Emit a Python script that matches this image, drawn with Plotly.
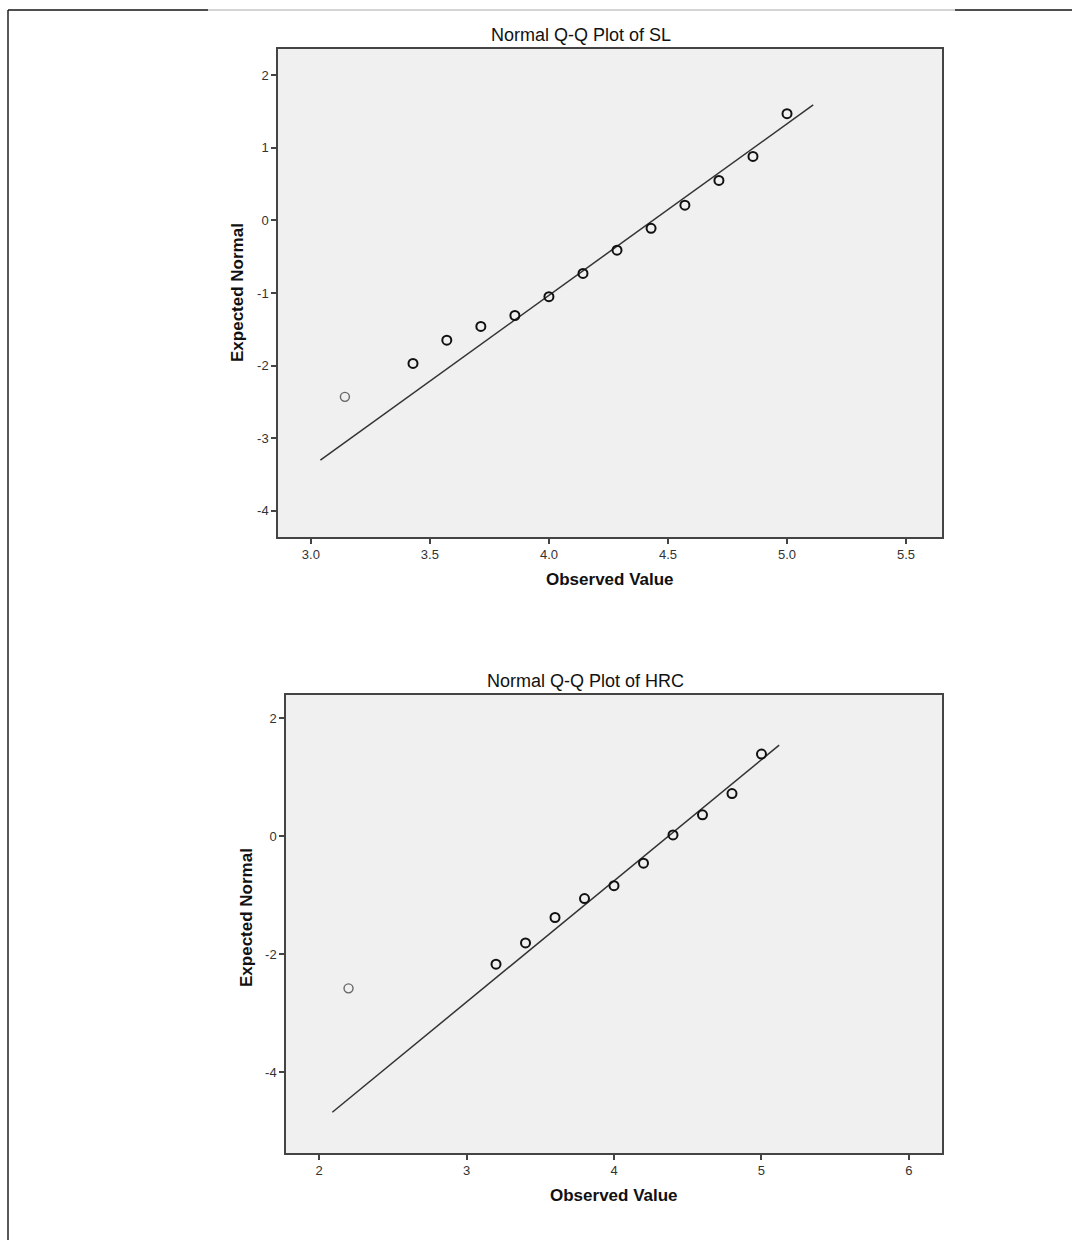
import plotly.graph_objects as go

# ---- data ----
sl_observed = [3.143, 3.429, 3.571, 3.714, 3.857, 4.0, 4.143, 4.286, 4.429, 4.571, 4.714, 4.857, 5.0]
sl_expected = [-2.43, -1.97, -1.65, -1.46, -1.31, -1.05, -0.73, -0.41, -0.11, 0.21, 0.55, 0.88, 1.47]
sl_line_x = [3.04, 5.11]
sl_line_y = [-3.30, 1.59]
sl_ticks_x = [3.0, 3.5, 4.0, 4.5, 5.0, 5.5]
sl_ticks_y = [2, 1, 0, -1, -2, -3, -4]

hrc_observed = [2.2, 3.2, 3.4, 3.6, 3.8, 4.0, 4.2, 4.4, 4.6, 4.8, 5.0]
hrc_expected = [-2.58, -2.17, -1.81, -1.38, -1.06, -0.84, -0.46, 0.02, 0.36, 0.72, 1.39]
hrc_line_x = [2.09, 5.12]
hrc_line_y = [-4.68, 1.54]
hrc_ticks_x = [2, 3, 4, 5, 6]
hrc_ticks_y = [2, 0, -2, -4]

W, H = 1072, 1240
FONT = "Liberation Sans, Arial, sans-serif"
DARK = "#333333"

def px_x(p):
    return p / W

def px_y(p):
    return 1 - p / H

def marker_style(n):
    colors = ["#666666"] + ["#111111"] * (n - 1)
    widths = [1.4] + [2.0] * (n - 1)
    return dict(symbol="circle-open", size=9, color=colors,
                line=dict(color=colors, width=widths))

fig = go.Figure()

fig.add_trace(go.Scatter(x=sl_line_x, y=sl_line_y, mode="lines",
                         line=dict(color=DARK, width=1.5), xaxis="x", yaxis="y",
                         hoverinfo="skip"))
fig.add_trace(go.Scatter(x=sl_observed, y=sl_expected, mode="markers",
                         marker=marker_style(len(sl_observed)), xaxis="x", yaxis="y"))
fig.add_trace(go.Scatter(x=hrc_line_x, y=hrc_line_y, mode="lines",
                         line=dict(color=DARK, width=1.5), xaxis="x2", yaxis="y2",
                         hoverinfo="skip"))
fig.add_trace(go.Scatter(x=hrc_observed, y=hrc_expected, mode="markers",
                         marker=marker_style(len(hrc_observed)), xaxis="x2", yaxis="y2"))

axis_common = dict(showgrid=False, zeroline=False, showline=True, mirror=True,
                   linecolor="#444444", linewidth=1.5, ticks="outside", ticklen=5,
                   tickwidth=1.5, tickcolor="#444444",
                   tickfont=dict(family=FONT, size=13, color=DARK))

def labels(vals, fmt):
    return [fmt.format(v).replace("\u2212", "-") for v in vals]

fig.update_layout(
    width=W, height=H,
    margin=dict(l=0, r=0, t=0, b=0),
    paper_bgcolor="white",
    plot_bgcolor="#f0f0f0",
    showlegend=False,
    xaxis=dict(domain=[px_x(278), px_x(942)], anchor="y", range=[2.862, 5.651],
               tickvals=sl_ticks_x, ticktext=labels(sl_ticks_x, "{:.1f}"), **axis_common),
    yaxis=dict(domain=[px_y(537), px_y(49)], anchor="x", range=[-4.36, 2.36],
               tickvals=sl_ticks_y, ticktext=labels(sl_ticks_y, "{:d}"), **axis_common),
    xaxis2=dict(domain=[px_x(286), px_x(942)], anchor="y2", range=[1.776, 6.224],
                tickvals=hrc_ticks_x, ticktext=labels(hrc_ticks_x, "{:d}"), **axis_common),
    yaxis2=dict(domain=[px_y(1153), px_y(695)], anchor="x2", range=[-5.37, 2.39],
                tickvals=hrc_ticks_y, ticktext=labels(hrc_ticks_y, "{:d}"), **axis_common),
)

def text(xp, yp, s, size, bold=False, angle=0, yanchor="middle"):
    fig.add_annotation(xref="paper", yref="paper", x=px_x(xp), y=px_y(yp),
                       text=f"<b>{s}</b>" if bold else s, showarrow=False,
                       textangle=angle, xanchor="center", yanchor=yanchor,
                       font=dict(family=FONT, size=size, color="#111111"))

text(581, 47, "Normal Q-Q Plot of SL", 18, yanchor="bottom")
text(610, 579, "Observed Value", 17, bold=True)
text(237, 293, "Expected Normal", 17, bold=True, angle=-90)

text(585, 693, "Normal Q-Q Plot of HRC", 18, yanchor="bottom")
text(614, 1195, "Observed Value", 17, bold=True)
text(246, 918, "Expected Normal", 17, bold=True, angle=-90)

# page frame lines
fig.add_shape(type="line", xref="paper", yref="paper", x0=px_x(8), x1=px_x(1072),
              y0=px_y(10), y1=px_y(10), line=dict(color="#aaaaaa", width=1))
fig.add_shape(type="line", xref="paper", yref="paper", x0=px_x(8), x1=px_x(208),
              y0=px_y(10), y1=px_y(10), line=dict(color="#222222", width=1.5))
fig.add_shape(type="line", xref="paper", yref="paper", x0=px_x(955), x1=px_x(1072),
              y0=px_y(10), y1=px_y(10), line=dict(color="#222222", width=1.5))
fig.add_shape(type="line", xref="paper", yref="paper", x0=px_x(8), x1=px_x(8),
              y0=px_y(10), y1=0, line=dict(color="#222222", width=1.5))

fig.write_html("out.html")
